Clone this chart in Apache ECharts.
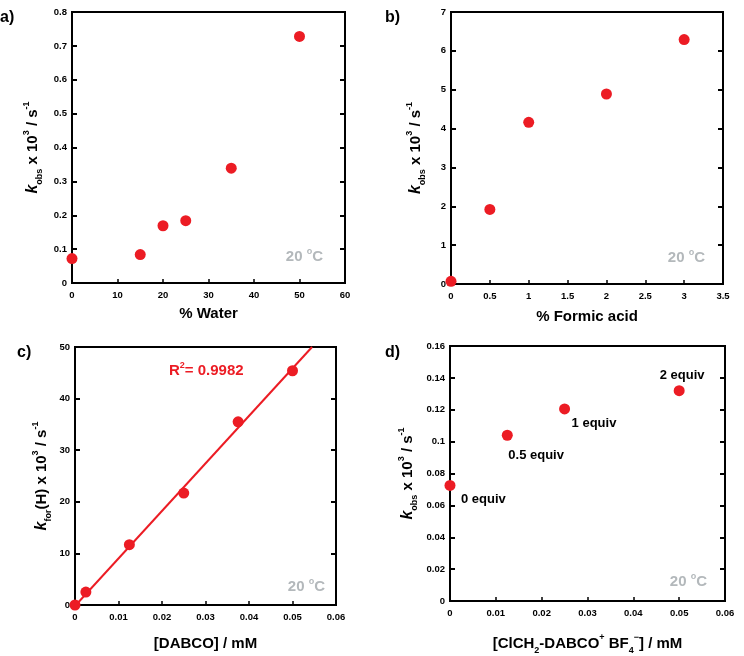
<!DOCTYPE html>
<html><head><meta charset="utf-8">
<script src="https://cdn.jsdelivr.net/npm/echarts@6/dist/echarts.min.js"></script>
<style>html,body{margin:0;padding:0;background:#fff}#c{width:744px;height:656px}</style>
</head><body><div id="c"></div>
<script>
// ---- data ----
const waterPct = [0, 15, 20, 25, 35, 50];
const waterKobs = [0.072, 0.084, 0.169, 0.184, 0.339, 0.728];
const formicPct = [0, 0.5, 1, 2, 3];
const formicKobs = [0.07, 1.92, 4.16, 4.89, 6.29];
const dabcoConc = [0, 0.0025, 0.0125, 0.025, 0.0375, 0.05];
const dabcoKfor = [0, 2.5, 11.7, 21.7, 35.5, 45.4];
const dabcoFitX = [0, 0.0545];
const dabcoFitY = [-0.2, 50];
const clConc = [0, 0.0125, 0.025, 0.05];
const clKobs = [0.0725, 0.104, 0.1205, 0.132];
const clLabels = ['0 equiv', '0.5 equiv', '1 equiv', '2 equiv'];
const r2Text = '0.9982';
const tempText = '20';

const FONT = '"Liberation Sans", Arial, "DejaVu Sans", sans-serif';
const RED = '#ec1c24';
const GRAY = '#b3b8bb';

const grids = [
  {left: 72, top: 12, width: 273, height: 271},
  {left: 451, top: 12, width: 272, height: 272},
  {left: 75, top: 347, width: 261, height: 258},
  {left: 450, top: 346, width: 275, height: 260}
];
const xCfg = [
  {min: 0, max: 60, interval: 10},
  {min: 0, max: 3.5, interval: 0.5},
  {min: 0, max: 0.06, interval: 0.01},
  {min: 0, max: 0.06, interval: 0.01}
];
const yCfg = [
  {min: 0, max: 0.8, interval: 0.1},
  {min: 0, max: 7, interval: 1},
  {min: 0, max: 50, interval: 10},
  {min: 0, max: 0.16, interval: 0.02}
];
const nameRich = {
  n: {fontFamily: FONT, fontWeight: 'bold', fontSize: 15, lineHeight: 22, color: '#000'},
  k: {fontFamily: FONT, fontWeight: 'bold', fontStyle: 'italic', fontSize: 16, lineHeight: 22, color: '#000'},
  sub: {fontFamily: FONT, fontWeight: 'bold', fontSize: 9, lineHeight: 22, verticalAlign: 'bottom', color: '#000'},
  sup: {fontFamily: FONT, fontWeight: 'bold', fontSize: 9, lineHeight: 22, verticalAlign: 'top', color: '#000'}
};
const xNames = [
  '{n|% Water}',
  '{n|% Formic acid}',
  '{n|[DABCO] / mM}',
  '{n|[ClCH}{sub|2}{n|-DABCO}{sup|+}{n| BF}{sub|4}{sup|−}{n|] / mM}'
];
const yNames = [
  '{k|k}{sub|obs}{n| x 10}{sup|3}{n| / s}{sup|-1}',
  '{k|k}{sub|obs}{n| x 10}{sup|3}{n| / s}{sup|-1}',
  '{k|k}{sub|for}{n|(H) x 10}{sup|3}{n| / s}{sup|-1}',
  '{k|k}{sub|obs}{n| x 10}{sup|3}{n| / s}{sup|-1}'
];
const yGaps = [28, 24, 22, 31];
const xGaps = [20, 22, 28, 32];

const labelStyle = {fontFamily: FONT, fontWeight: 'bold', fontSize: 9.5, color: '#000'};
const xAxes = [], yAxes = [];
grids.forEach((g, i) => {
  xAxes.push(Object.assign({
    type: 'value', gridIndex: i, position: 'bottom',
    name: xNames[i], nameLocation: 'middle', nameGap: xGaps[i],
    nameTextStyle: {rich: nameRich},
    axisLine: {show: false},
    axisTick: {show: true, inside: true, length: 4, lineStyle: {color: '#000', width: 1.5}},
    axisLabel: Object.assign({margin: 7}, labelStyle),
    splitLine: {show: false}
  }, xCfg[i]));
  yAxes.push(Object.assign({
    type: 'value', gridIndex: i, position: 'left',
    name: yNames[i], nameLocation: 'middle', nameGap: yGaps[i], nameRotate: 90,
    nameTextStyle: {rich: nameRich},
    axisLine: {show: false},
    axisTick: {show: true, inside: true, length: 5, lineStyle: {color: '#000', width: 2}},
    axisLabel: Object.assign({margin: 5}, labelStyle),
    splitLine: {show: false}
  }, yCfg[i]));
  yAxes.push(Object.assign({
    type: 'value', gridIndex: i, position: 'right',
    axisLine: {show: false},
    axisTick: {show: true, inside: true, length: 5, lineStyle: {color: '#000', width: 2}},
    axisLabel: {show: false},
    splitLine: {show: false}
  }, yCfg[i]));
});

const zip = (xs, ys) => xs.map((x, j) => [x, ys[j]]);
const scatterBase = {type: 'scatter', symbolSize: 11, clip: false, itemStyle: {color: RED, opacity: 1}, z: 5};

const labelOffsets = [[11, 14], [1, 20], [7, 14], [3, -15]];
const labelAlign = ['left', 'left', 'left', 'center'];
const dData = clConc.map((x, j) => ({
  value: [x, clKobs[j]],
  label: {
    show: true, formatter: clLabels[j], position: 'inside',
    offset: labelOffsets[j], align: labelAlign[j],
    fontFamily: FONT, fontWeight: 'bold', fontSize: 13, color: '#000'
  }
}));

const series = [
  Object.assign({}, scatterBase, {xAxisIndex: 0, yAxisIndex: 0, data: zip(waterPct, waterKobs)}),
  Object.assign({}, scatterBase, {xAxisIndex: 1, yAxisIndex: 2, data: zip(formicPct, formicKobs)}),
  {type: 'line', xAxisIndex: 2, yAxisIndex: 4, data: zip(dabcoFitX, dabcoFitY), showSymbol: false, symbol: 'none',
   lineStyle: {color: RED, width: 2}, clip: true, z: 4, silent: true},
  Object.assign({}, scatterBase, {xAxisIndex: 2, yAxisIndex: 4, data: zip(dabcoConc, dabcoKfor)}),
  Object.assign({}, scatterBase, {xAxisIndex: 3, yAxisIndex: 6, data: dData})
];

const bold = (txt, x, y, size, color, align) => ({
  type: 'text', left: x, top: y,
  style: {text: txt, font: 'bold ' + size + 'px ' + FONT, fill: color, textAlign: align || 'left', textVerticalAlign: 'middle'}
});
const tempLabel = (xr, y) => ({
  type: 'text', x: xr, y: y,
  style: {
    text: '{t|' + tempText + ' }{s|o}{t|C}', align: 'right', verticalAlign: 'middle',
    rich: {
      t: {font: 'bold 15px ' + FONT, fill: GRAY, lineHeight: 20},
      s: {font: 'bold 9px ' + FONT, fill: GRAY, lineHeight: 20, verticalAlign: 'top'}
    }
  }
});

const graphic = [
  bold('a)', 0, 10, 16, '#000'),
  bold('b)', 385, 10, 16, '#000'),
  bold('c)', 17, 345, 16, '#000'),
  bold('d)', 385, 345, 16, '#000'),
  tempLabel(323, 257), tempLabel(705, 258), tempLabel(325, 587), tempLabel(707, 582),
  {
    type: 'text', x: 169, y: 371,
    style: {
      text: '{t|R}{s|2}{t|= ' + r2Text + '}', verticalAlign: 'middle',
      rich: {
        t: {font: 'bold 15px ' + FONT, fill: RED, lineHeight: 20},
        s: {font: 'bold 9px ' + FONT, fill: RED, lineHeight: 20, verticalAlign: 'top'}
      }
    }
  }
];

const chart = echarts.init(document.getElementById('c'), null, {renderer: 'canvas'});
chart.setOption({
  animation: false,
  backgroundColor: '#fff',
  grid: grids.map(g => Object.assign({show: true, borderColor: '#000', borderWidth: 2, backgroundColor: 'transparent'}, g)),
  xAxis: xAxes,
  yAxis: yAxes,
  series: series,
  graphic: graphic
});
</script>
</body></html>
